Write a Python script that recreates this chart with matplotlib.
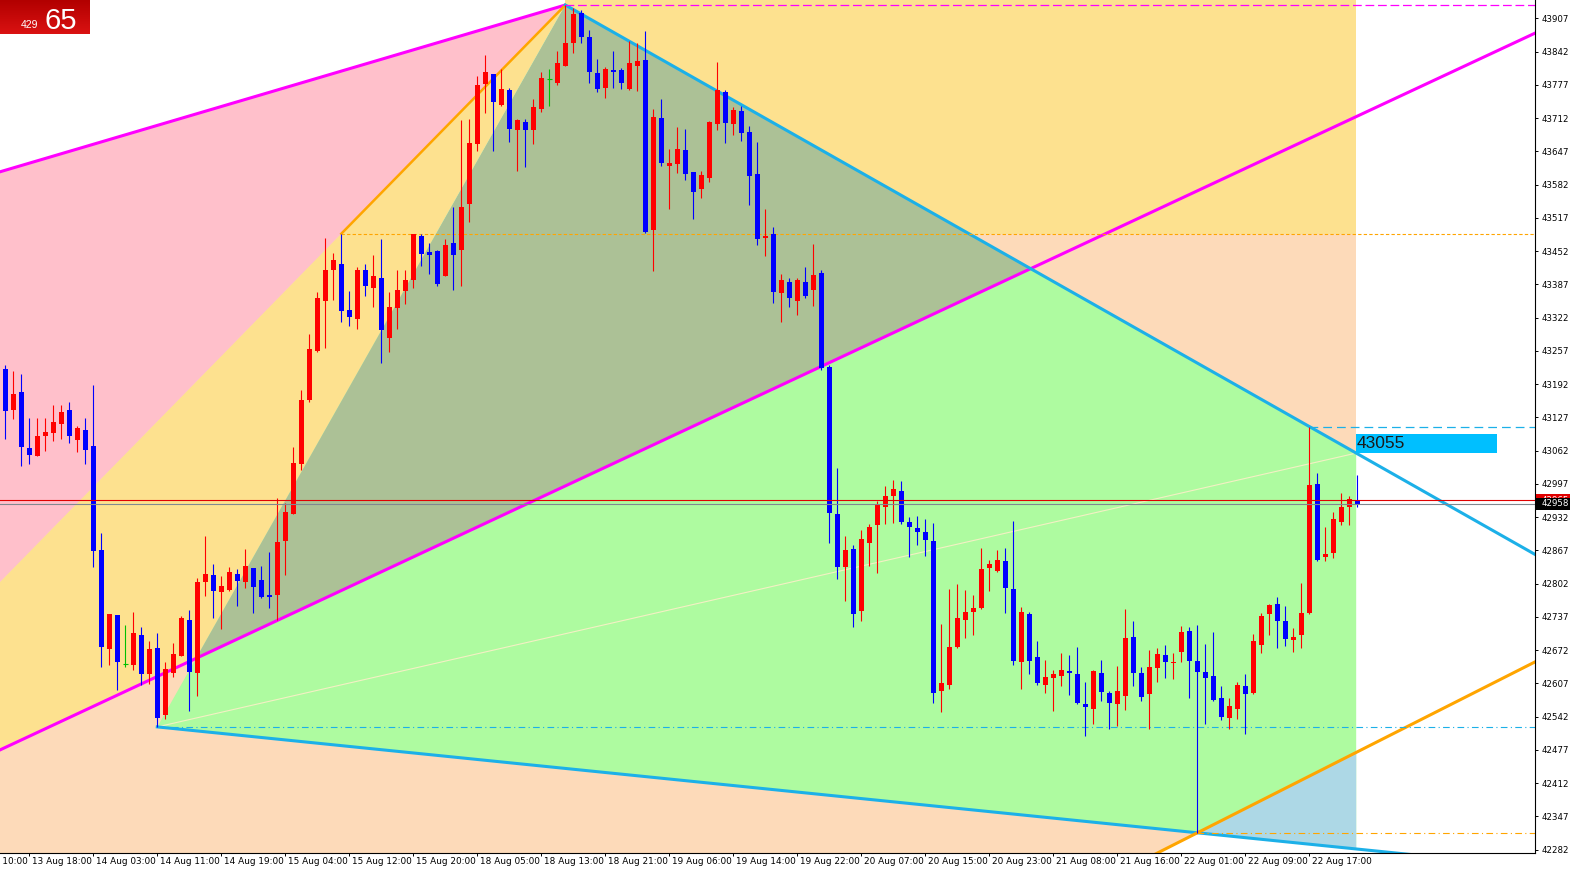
import numpy as np
import matplotlib
matplotlib.use('Agg')
import matplotlib.pyplot as plt
from matplotlib.patches import Polygon, Rectangle
import matplotlib.transforms as mtransforms

# H1 candles, one row per bar (open, high, low, close)
opens = [43221, 43141, 43176, 43067, 43052, 43091, 43096, 43115, 43141, 43083,
         43102, 43071, 42868, 42675, 42741, 42644, 42642, 42701, 42626, 42676,
         42545, 42627, 42661, 42731, 42628, 42806, 42819, 42786, 42790, 42821,
         42806, 42833, 42809, 42780, 42780, 42885, 42939, 43035, 43161, 43257,
         43355, 43416, 43426, 43337, 43320, 43416, 43380, 43400, 43282, 43340,
         43374, 43396, 43482, 43450, 43452, 43403, 43468, 43455, 43544, 43661,
         43779, 43799, 43737, 43766, 43689, 43705, 43689, 43729, 43789, 43781,
         43814, 43859, 43917, 43870, 43800, 43771, 43806, 43806, 43768, 43814,
         43826, 43493, 43713, 43619, 43622, 43650, 43606, 43573, 43594, 43700,
         43762, 43700, 43726, 43684, 43603, 43478, 43485, 43371, 43391, 43355,
         43391, 43375, 43409, 43226, 42938, 42835, 42869, 42749, 42881, 42917,
         42952, 42973, 42983, 42923, 42910, 42902, 42885, 42592, 42604, 42678,
         42730, 42747, 42754, 42833, 42827, 42846, 42791, 42649, 42743, 42658,
         42604, 42617, 42622, 42631, 42625, 42566, 42556, 42627, 42588, 42567,
         42582, 42698, 42628, 42586, 42637, 42663, 42646, 42669, 42710, 42651,
         42629, 42622, 42579, 42540, 42557, 42601, 42588, 42682, 42742, 42762,
         42728, 42691, 42702, 42745, 42997, 42854, 42862, 42923, 42952, 42965]
highs = [43229, 43218, 43212, 43125, 43125, 43125, 43151, 43151, 43157, 43110,
         43125, 43190, 42901, 42743, 42741, 42721, 42746, 42717, 42690, 42705,
         42649, 42685, 42739, 42751, 42814, 42895, 42840, 42816, 42834, 42830,
         42870, 42833, 42837, 42864, 42970, 42959, 43069, 43181, 43289, 43373,
         43478, 43448, 43486, 43374, 43420, 43427, 43444, 43476, 43373, 43416,
         43416, 43486, 43486, 43468, 43455, 43476, 43538, 43708, 43710, 43795,
         43835, 43799, 43807, 43771, 43711, 43711, 43749, 43803, 43807, 43843,
         43933, 43927, 43923, 43884, 43827, 43812, 43843, 43809, 43863, 43859,
         43882, 43730, 43749, 43652, 43695, 43691, 43606, 43609, 43707, 43822,
         43767, 43734, 43736, 43697, 43665, 43534, 43499, 43407, 43399, 43399,
         43420, 43466, 43416, 43229, 43029, 42895, 42878, 42907, 42919, 42964,
         42993, 43005, 43003, 42932, 42934, 42928, 42921, 42723, 42791, 42801,
         42790, 42780, 42871, 42848, 42868, 42871, 42925, 42756, 42747, 42690,
         42653, 42633, 42666, 42663, 42679, 42610, 42633, 42653, 42593, 42641,
         42753, 42728, 42640, 42672, 42676, 42682, 42667, 42719, 42717, 42721,
         42684, 42708, 42602, 42579, 42610, 42625, 42704, 42745, 42762, 42775,
         42758, 42715, 42803, 43109, 43019, 42913, 42943, 42980, 42973, 43014]
lows = [43085, 43124, 43031, 43035, 43052, 43062, 43081, 43085, 43076, 43060,
        43035, 42835, 42640, 42642, 42594, 42640, 42633, 42604, 42606, 42522,
        42537, 42619, 42660, 42554, 42583, 42778, 42734, 42714, 42788, 42759,
        42794, 42744, 42774, 42754, 42731, 42818, 42939, 43025, 43157, 43255,
        43263, 43356, 43314, 43306, 43300, 43364, 43343, 43234, 43255, 43300,
        43349, 43380, 43423, 43408, 43384, 43403, 43375, 43384, 43508, 43648,
        43721, 43648, 43736, 43665, 43608, 43617, 43662, 43724, 43736, 43777,
        43814, 43839, 43858, 43781, 43762, 43752, 43770, 43768, 43767, 43765,
        43487, 43414, 43619, 43534, 43604, 43591, 43515, 43556, 43588, 43689,
        43664, 43679, 43668, 43542, 43464, 43442, 43351, 43314, 43342, 43327,
        43360, 43345, 43220, 42882, 42811, 42769, 42718, 42728, 42837, 42822,
        42918, 42921, 42918, 42855, 42878, 42857, 42568, 42552, 42597, 42677,
        42695, 42702, 42752, 42788, 42825, 42744, 42643, 42597, 42625, 42603,
        42589, 42554, 42601, 42584, 42566, 42505, 42527, 42573, 42517, 42524,
        42555, 42601, 42573, 42517, 42610, 42617, 42615, 42649, 42578, 42315,
        42528, 42573, 42536, 42517, 42537, 42508, 42586, 42667, 42702, 42677,
        42681, 42669, 42676, 42742, 42847, 42847, 42853, 42917, 42917, 42951]
closes = [43140, 43173, 43070, 43054, 43091, 43098, 43118, 43138, 43091, 43106,
          43064, 42865, 42679, 42743, 42649, 42644, 42705, 42625, 42674, 42539,
          42635, 42664, 42734, 42630, 42805, 42820, 42788, 42797, 42825, 42808,
          42837, 42796, 42775, 42775, 42883, 42942, 43037, 43161, 43261, 43360,
          43416, 43434, 43335, 43324, 43416, 43384, 43404, 43297, 43343, 43376,
          43396, 43486, 43446, 43445, 43388, 43464, 43444, 43538, 43664, 43777,
          43802, 43743, 43769, 43691, 43709, 43688, 43734, 43791, 43789, 43819,
          43859, 43915, 43871, 43802, 43769, 43808, 43802, 43781, 43819, 43824,
          43490, 43715, 43624, 43625, 43652, 43603, 43568, 43601, 43705, 43766,
          43703, 43728, 43682, 43599, 43476, 43482, 43373, 43396, 43360, 43396,
          43364, 43405, 43223, 42940, 42834, 42868, 42743, 42889, 42912, 42958,
          42973, 42987, 42922, 42913, 42902, 42887, 42589, 42608, 42679, 42734,
          42746, 42754, 42831, 42840, 42848, 42794, 42651, 42746, 42651, 42608,
          42619, 42625, 42633, 42627, 42569, 42560, 42632, 42591, 42569, 42592,
          42695, 42627, 42581, 42639, 42665, 42648, 42649, 42708, 42651, 42630,
          42617, 42575, 42542, 42562, 42603, 42586, 42689, 42739, 42760, 42728,
          42693, 42698, 42744, 42995, 42848, 42860, 42928, 42951, 42967, 42958]

time_labels = ['13 Aug 10:00', '13 Aug 18:00', '14 Aug 03:00', '14 Aug 11:00', '14 Aug 19:00',
               '15 Aug 04:00', '15 Aug 12:00', '15 Aug 20:00', '18 Aug 05:00', '18 Aug 13:00',
               '18 Aug 21:00', '19 Aug 06:00', '19 Aug 14:00', '19 Aug 22:00', '20 Aug 07:00',
               '20 Aug 15:00', '20 Aug 23:00', '21 Aug 08:00', '21 Aug 16:00', '22 Aug 01:00',
               '22 Aug 09:00', '22 Aug 17:00']
label_bars = list(range(-5, 164, 8))
price_ticks = list(range(42282, 43908, 65))

# swing points (bar, price)
A = (19, lows[19])
B = (42, highs[42])
C = (70, highs[70])
D = (149, lows[149])
E = (163, highs[163])
mag_up_left = (-0.66, 43607)
mag_low_pts = [(-0.66, 42477), (191.2, 43878)]
orange_low_right = (191.2, 42649)
ask_price = 42965
bid_price = 42958
line_value_text = '43055'
badge_small, badge_big = '429', '65'

W, H = 1570, 874
X0, X1 = -0.6625, 191.2
Y0, Y1 = 42275.5, 43942.8
x_end = 168.85   # last bar, fills stop here

fig = plt.figure(figsize=(W / 100, H / 100), dpi=100)
ax = fig.add_axes([0, 21 / H, 1535 / W, 853 / H])


def line(p, q):
    k = (q[1] - p[1]) / (q[0] - p[0])
    return lambda x: p[1] + k * (x - p[0])


def cross(p1, q1, p2, q2):
    k1 = (q1[1] - p1[1]) / (q1[0] - p1[0])
    k2 = (q2[1] - p2[1]) / (q2[0] - p2[0])
    x = (p2[1] - p1[1] + k1 * p1[0] - k2 * p2[0]) / (k1 - k2)
    return (x, p1[1] + k1 * (x - p1[0]))


mag_up = line(mag_up_left, C)
mag_low = line(*mag_low_pts)
bc = line(B, C)
cyan_top = line(C, E)
cyan_bot = line(A, D)
orange_low = line(D, orange_low_right)

xl = X0 - 1
p_acm = cross(A, C, *mag_low_pts)
p_cm = cross(C, E, *mag_low_pts)
yb = Y0 - 60
xq = D[0] + (yb - D[1]) / ((orange_low_right[1] - D[1]) / (orange_low_right[0] - D[0]))


def fill(pts, color, z=1):
    ax.add_patch(Polygon(pts, closed=True, facecolor=color, edgecolor='none', zorder=z))


fill([(xl, yb), (x_end, yb), (x_end, B[1]), (xl, B[1])], '#FDDAB9')
fill([(xq, yb), (x_end, orange_low(x_end)), (x_end, yb)], 'white')
fill([(C[0], B[1]), (x_end, B[1]), (x_end, Y1 + 20), (C[0], Y1 + 20)], '#FDE18F')
fill([(xl, mag_up(xl)), C, (xl, bc(xl))], '#FFC0CB')
fill([(xl, bc(xl)), C, p_acm, (xl, mag_low(xl))], '#FDE18F')
fill([A, C, (x_end, cyan_top(x_end)), (x_end, cyan_bot(x_end))], '#AEFBA0')
fill([p_acm, C, p_cm], '#ACC196')
fill([D, (x_end, orange_low(x_end)), (x_end, cyan_bot(x_end))], '#ADD8E6')

# faint line from the low
ax.plot([A[0], x_end], [A[1], cyan_top(x_end)], color='#F4F0C4', lw=0.8, zorder=1.5)

# trend lines
ax.plot([xl, C[0]], [mag_up(xl), C[1]], color='#FF00FF', lw=2.2, zorder=2, solid_capstyle='butt')
ax.plot([xl, X1 + 1], [mag_low(xl), mag_low(X1 + 1)], color='#FF00FF', lw=2.2, zorder=2)
ax.plot([B[0], C[0]], [B[1], C[1]], color='#FFA500', lw=1.8, zorder=2)
ax.plot([C[0], X1 + 1], [C[1], cyan_top(X1 + 1)], color='#1CB0E8', lw=2.2, zorder=2)
ax.plot([A[0], X1 + 1], [A[1], cyan_bot(X1 + 1)], color='#1CB0E8', lw=2.2, zorder=2)
ax.plot([xq, X1 + 1], [yb, orange_low(X1 + 1)], color='#FFA500', lw=2.2, zorder=2)

# level lines
ax.plot([C[0], X1], [C[1], C[1]], color='#FF00FF', lw=0.9, ls=(0, (7, 3)), zorder=2)
ax.plot([B[0], X1], [B[1], B[1]], color='#FFA500', lw=0.8, ls=(0, (3, 2)), zorder=2)
ax.plot([A[0], X1], [A[1], A[1]], color='#1CB0E8', lw=0.8, ls=(0, (6, 3, 1, 3)), zorder=2)
ax.plot([D[0], X1], [D[1], D[1]], color='#FFA500', lw=0.8, ls=(0, (6, 3, 1, 3)), zorder=2)
ax.plot([E[0], X1], [E[1], E[1]], color='#1CB0E8', lw=0.9, ls=(0, (7, 4)), zorder=2)

# candles
for j in range(len(opens)):
    o, h, l, c = opens[j], highs[j], lows[j], closes[j]
    if c > o:
        col = '#FF0000'
    elif c < o:
        col = '#0000FF'
    else:
        col = '#00C000'
    ax.vlines(j, l, h, color=col, lw=0.8, zorder=3)
    if c == o:
        ax.hlines(o, j - 0.3, j + 0.3, color=col, lw=0.8, zorder=3)
    else:
        ax.bar(j, max(abs(c - o), 1.6), bottom=min(o, c), width=0.62, color=col, lw=0, zorder=3)

# bid / ask lines
ax.axhline(ask_price, color='#E00000', lw=0.8, zorder=4)
ax.axhline(bid_price, color='#808890', lw=0.8, zorder=4)

# trendline value label
ax.add_patch(Rectangle((x_end, cyan_top(x_end)), 17.6, 38, facecolor='#00BFFF', edgecolor='none', zorder=5))
ax.text(x_end + 0.1, cyan_top(x_end) + 19, line_value_text, fontsize=12.5, family='Liberation Sans',
        color='#1A1A1A', va='center', ha='left', zorder=6)

# axes
for s in ['top', 'left']:
    ax.spines[s].set_visible(False)
ax.spines['right'].set_linewidth(0.8)
ax.spines['bottom'].set_linewidth(0.8)
ax.yaxis.tick_right()
ax.set_yticks(price_ticks)
ax.set_yticklabels([str(v) for v in price_ticks])
ax.tick_params(axis='y', labelsize=6.2, length=2.5, width=0.7, pad=2, colors='black')
ax.set_xticks(label_bars)
ax.set_xticklabels([])
ax.tick_params(axis='x', length=2.5, width=0.7)
# set_xticks widens the view for the off-screen tick, so limits go last
ax.set_xlim(X0, X1)
ax.set_ylim(Y0, Y1)
trans = mtransforms.blended_transform_factory(ax.transData, ax.transAxes)
for jb, t in zip(label_bars, time_labels):
    ax.text(jb + 0.3, -0.0105, t, transform=trans, fontsize=6.4, ha='left', va='center',
            clip_on=False, color='black')

# price boxes on the right axis (bid box covers most of the ask box)
transy = mtransforms.blended_transform_factory(ax.transAxes, ax.transData)
z = 7
for price, bg in [(ask_price, '#E00000'), (bid_price, '#000000')]:
    ax.add_patch(Rectangle((1.0007, price - 11.5), 0.03, 23, transform=transy, facecolor=bg,
                           edgecolor='none', clip_on=False, zorder=z))
    ax.text(1.004, price, str(price), transform=transy, fontsize=6.2, color='white',
            ha='left', va='center', clip_on=False, zorder=z + 1)
    z += 2

# badge top-left
bax = fig.add_axes([0, 1 - 34 / H, 90 / W, 34 / H])
g = np.linspace(0, 1, 34)[:, None, None]
top_c = np.array([178, 0, 0]) / 255
bot_c = np.array([218, 18, 18]) / 255
img = np.repeat(top_c + (bot_c - top_c) * g, 90, axis=1)
bax.imshow(img, aspect='auto', extent=(0, 90, 34, 0))
bax.set_xlim(0, 90)
bax.set_ylim(34, 0)
bax.axis('off')
bax.text(21, 27.5, badge_small, fontsize=7.5, family='Liberation Sans', color='white', va='baseline')
bax.text(44, 29, badge_big, fontsize=21, family='Liberation Sans', color='white', va='baseline')

fig.savefig('out.png', dpi=100)
